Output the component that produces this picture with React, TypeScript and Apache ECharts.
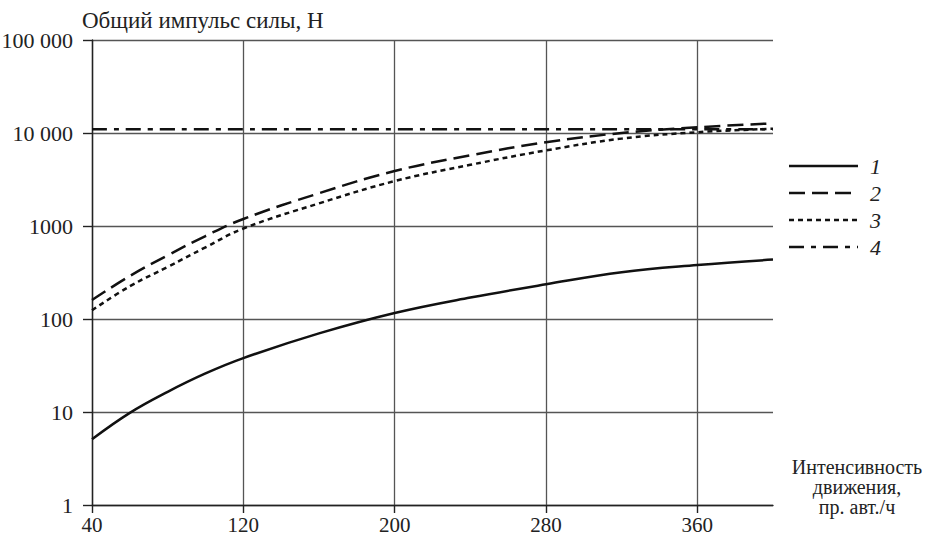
import React, { useEffect, useRef } from "react";
import * as echarts from "echarts";

const X0 = 40; // first x tick (axis origin)
const xTicks = [40, 120, 200, 280, 360];
const yTickLabels: Record<number, string> = { 1: "1", 10: "10", 100: "100", 1000: "1000", 10000: "10 000", 100000: "100 000" };

const xs = [40, 60, 80, 100, 120, 160, 200, 240, 280, 320, 360, 400];
const series1 = [5.1, 9.8, 16.5, 26, 38, 70, 116, 170, 236, 318, 380, 436];
const series2 = [160, 290, 484, 780, 1190, 2250, 3900, 5750, 7950, 10000, 11500, 12700];
const series3 = [124, 225, 363, 590, 940, 1750, 3040, 4550, 6500, 8700, 10200, 11100];
const xs4 = [40, 400];
const series4 = [11000, 11000];

const seriesNames = ["1", "2", "3", "4"];
const yAxisTitle = "Общий импульс силы, Н";
const xAxisTitle = "Интенсивность\nдвижения,\nпр. авт./ч";

const FONT = "Liberation Serif";
const DASHES: any[] = ["solid", [16, 7], [5, 4], [15, 7, 5, 7]];

export default function App() {
  const ref = useRef<HTMLDivElement>(null);
  useEffect(() => {
    document.body.style.margin = "0";
    const chart = echarts.init(ref.current!, null, { renderer: "svg" });
    const pair = (x: number[], y: number[]) => x.map((v, i) => [v - X0, y[i]]);
    const lineBase = (name: string, data: number[][], type: any) => ({
      name,
      type: "line",
      data,
      symbol: "none",
      smooth: 0.4,
      lineStyle: { color: "#111", width: 2.5, type },
      itemStyle: { color: "#111" },
    });
    const legendItems: any[] = [];
    seriesNames.forEach((n, i) => {
      const y = 166 + i * 27;
      legendItems.push({
        type: "line",
        shape: { x1: 789, y1: y, x2: 858, y2: y },
        style: { stroke: "#111", lineWidth: 2.5, lineDash: DASHES[i] === "solid" ? null : DASHES[i] },
      });
      legendItems.push({
        type: "text",
        x: 870,
        y,
        style: { text: n, fontFamily: FONT, fontSize: 22, fontStyle: "italic", fill: "#222", verticalAlign: "middle" },
      });
    });
    chart.setOption({
      animation: false,
      backgroundColor: "#fff",
      textStyle: { fontFamily: FONT },
      grid: { left: 92, right: 166, top: 40, bottom: 34, containLabel: false, outerBoundsMode: "none" },
      xAxis: {
        type: "value",
        min: 0,
        max: 400 - X0,
        interval: 80,
        axisLine: { show: true, onZero: false, lineStyle: { color: "#222", width: 1.4 } },
        axisTick: { show: true, length: 8, lineStyle: { color: "#222", width: 1.4 }, customValues: xTicks.map((v) => v - X0) },
        axisLabel: {
          margin: 9,
          fontFamily: FONT,
          fontSize: 21,
          color: "#222",
          customValues: xTicks.map((v) => v - X0),
          formatter: (v: number) => (xTicks.includes(v + X0) ? String(v + X0) : ""),
        },
        splitLine: { show: true, lineStyle: { color: "#555", width: 1.3 } },
      },
      yAxis: {
        type: "log",
        logBase: 10,
        min: 1,
        max: 100000,
        axisLine: { show: true, lineStyle: { color: "#222", width: 1.4 } },
        axisTick: { show: true, length: 9, lineStyle: { color: "#222", width: 1.4 } },
        axisLabel: {
          margin: 19,
          fontFamily: FONT,
          fontSize: 22,
          color: "#222",
          formatter: (v: number) => yTickLabels[Math.round(v)] ?? String(v),
        },
        splitLine: { show: true, lineStyle: { color: "#555", width: 1.3 } },
      },
      graphic: [
        {
          type: "text",
          x: 82,
          y: 20,
          style: { text: yAxisTitle, fontFamily: FONT, fontSize: 23, fill: "#222", verticalAlign: "middle" },
        },
        {
          type: "text",
          x: 857,
          y: 457,
          style: { text: xAxisTitle, fontFamily: FONT, fontSize: 20, fill: "#222", align: "center", lineHeight: 20 },
        },
        ...legendItems,
      ],
      series: [
        lineBase("1", pair(xs, series1), DASHES[0]),
        lineBase("2", pair(xs, series2), DASHES[1]),
        lineBase("3", pair(xs, series3), DASHES[2]),
        lineBase("4", pair(xs4, series4), DASHES[3]),
      ],
    });
    return () => chart.dispose();
  }, []);
  return <div ref={ref} style={{ width: 939, height: 539 }} />;
}
